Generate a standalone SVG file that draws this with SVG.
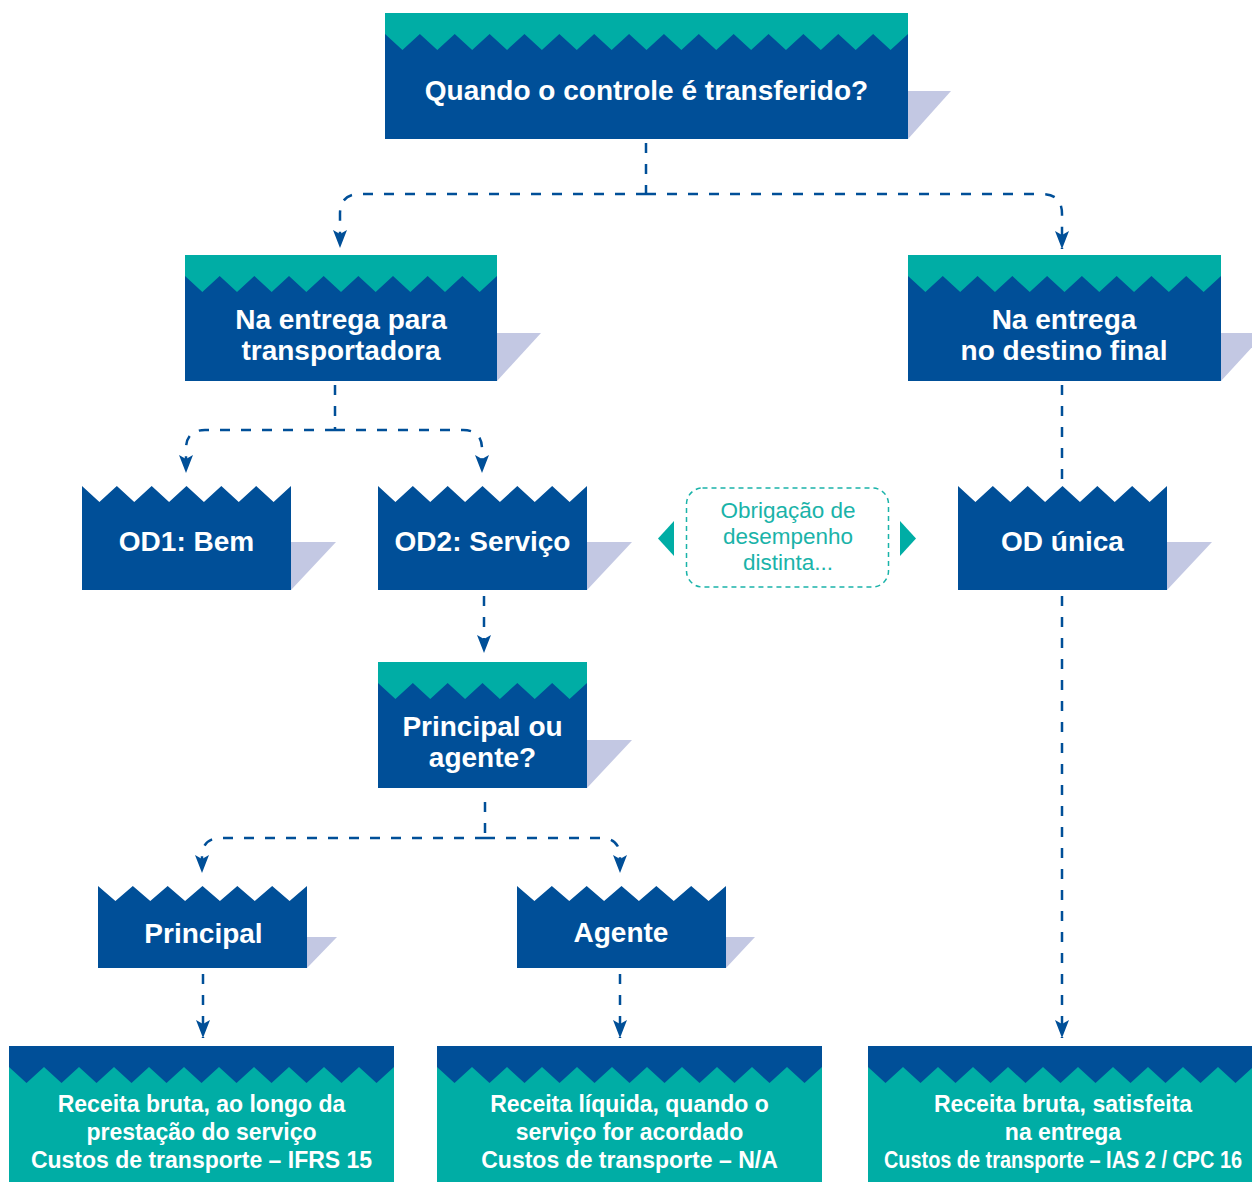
<svg xmlns="http://www.w3.org/2000/svg" width="1252" height="1182" viewBox="0 0 1252 1182">
<style>
.blue{fill:#004f98}
.teal{fill:#00ada5}
.shadow{fill:#c3c8e3}
.t{font-family:"Liberation Sans",Arial,sans-serif;font-weight:bold;font-size:28px;fill:#ffffff;text-anchor:middle}
.b{font-family:"Liberation Sans",Arial,sans-serif;font-weight:bold;font-size:23px;fill:#ffffff;text-anchor:middle}
.n{font-family:"Liberation Sans",Arial,sans-serif;font-size:22.5px;fill:#1ab3a9;text-anchor:middle}
.c{fill:none;stroke:#004f98;stroke-width:2.5;stroke-dasharray:10 11}
</style>
<defs>
<marker id="ah" markerUnits="userSpaceOnUse" markerWidth="20" markerHeight="16" refX="18" refY="8" orient="auto" viewBox="0 0 20 16">
<path d="M0,1 L18,8 L0,15 L4,8 Z" fill="#004f98"/>
</marker>
</defs>
<rect width="1252" height="1182" fill="#ffffff"/>

<g id="connectors">
<path class="c" d="M646,143V194"/>
<path class="c" d="M646,194H360Q340,194 340,214V248" marker-end="url(#ah)"/>
<path class="c" d="M646,194H1042Q1062,194 1062,214V249" marker-end="url(#ah)"/>
<path class="c" d="M335,385V430"/>
<path class="c" d="M335,430H205Q186,430 186,449V473" marker-end="url(#ah)"/>
<path class="c" d="M335,430H463Q482,430 482,449V473" marker-end="url(#ah)"/>
<path class="c" d="M1062,385V482"/>
<path class="c" d="M484,596V653" marker-end="url(#ah)"/>
<path class="c" d="M485,802V838"/>
<path class="c" d="M485,838H221Q202,838 202,857V873" marker-end="url(#ah)"/>
<path class="c" d="M485,838H601Q620,838 620,857V873" marker-end="url(#ah)"/>
<path class="c" d="M203,974V1038" marker-end="url(#ah)"/>
<path class="c" d="M620,974V1038" marker-end="url(#ah)"/>
<path class="c" d="M1062,596V1038" marker-end="url(#ah)"/>
</g>

<g id="n-quando">
<polygon class="shadow" points="908,91 951,91 908,139"/>
<rect class="blue" x="385" y="13" width="523" height="126"/>
<path class="teal" d="M385,13H908V34l-17.433,16 -17.433,-16 -17.433,16 -17.433,-16 -17.433,16 -17.433,-16 -17.433,16 -17.433,-16 -17.433,16 -17.433,-16 -17.433,16 -17.433,-16 -17.433,16 -17.433,-16 -17.433,16 -17.433,-16 -17.433,16 -17.433,-16 -17.433,16 -17.433,-16 -17.433,16 -17.433,-16 -17.433,16 -17.433,-16 -17.433,16 -17.433,-16 -17.433,16 -17.433,-16 -17.433,16 -17.433,-16Z"/>
<text class="t" x="646.5" y="100">Quando o controle é transferido?</text>
</g>

<g id="n-transportadora">
<polygon class="shadow" points="497,333 541,333 497,381"/>
<rect class="blue" x="185" y="255" width="312" height="126"/>
<path class="teal" d="M185,255H497V276l-17.333,16 -17.333,-16 -17.333,16 -17.333,-16 -17.333,16 -17.333,-16 -17.333,16 -17.333,-16 -17.333,16 -17.333,-16 -17.333,16 -17.333,-16 -17.333,16 -17.333,-16 -17.333,16 -17.333,-16 -17.333,16 -17.333,-16Z"/>
<text class="t" x="341" y="329">Na entrega para</text>
<text class="t" x="341" y="360">transportadora</text>
</g>

<g id="n-destino">
<polygon class="shadow" points="1221,333 1265,333 1221,381"/>
<rect class="blue" x="908" y="255" width="313" height="126"/>
<path class="teal" d="M908,255H1221V276l-17.389,16 -17.389,-16 -17.389,16 -17.389,-16 -17.389,16 -17.389,-16 -17.389,16 -17.389,-16 -17.389,16 -17.389,-16 -17.389,16 -17.389,-16 -17.389,16 -17.389,-16 -17.389,16 -17.389,-16 -17.389,16 -17.389,-16Z"/>
<text class="t" x="1064" y="329">Na entrega</text>
<text class="t" x="1064" y="360">no destino final</text>
</g>

<g id="n-od1">
<polygon class="shadow" points="291,542 336,542 291,590"/>
<path class="blue" d="M82,486l17.417,16 17.417,-16 17.417,16 17.417,-16 17.417,16 17.417,-16 17.417,16 17.417,-16 17.417,16 17.417,-16 17.417,16 17.417,-16V590H82Z"/>
<text class="t" x="186.5" y="551">OD1: Bem</text>
</g>

<g id="n-od2">
<polygon class="shadow" points="587,542 632,542 587,590"/>
<path class="blue" d="M378,486l17.417,16 17.417,-16 17.417,16 17.417,-16 17.417,16 17.417,-16 17.417,16 17.417,-16 17.417,16 17.417,-16 17.417,16 17.417,-16V590H378Z"/>
<text class="t" x="482.5" y="551">OD2: Serviço</text>
</g>

<g id="n-odunica">
<polygon class="shadow" points="1167,542 1212,542 1167,590"/>
<path class="blue" d="M958,486l17.417,16 17.417,-16 17.417,16 17.417,-16 17.417,16 17.417,-16 17.417,16 17.417,-16 17.417,16 17.417,-16 17.417,16 17.417,-16V590H958Z"/>
<text class="t" x="1062.5" y="551">OD única</text>
</g>

<g id="n-obrigacao">
<polygon fill="#00ada5" points="674,521 674,556 658,538.5"/>
<polygon fill="#00ada5" points="900,521 900,556 916,538.5"/>
<rect x="686.5" y="488" width="202" height="99" rx="16" ry="16" fill="none" stroke="#1ab3a9" stroke-width="1.5" stroke-dasharray="5 4"/>
<text class="n" x="788" y="518">Obrigação de</text>
<text class="n" x="788" y="544">desempenho</text>
<text class="n" x="788" y="570">distinta...</text>
</g>

<g id="n-principal-agente">
<polygon class="shadow" points="587,740 632,740 587,788"/>
<rect class="blue" x="378" y="662" width="209" height="126"/>
<path class="teal" d="M378,662H587V683l-17.417,16 -17.417,-16 -17.417,16 -17.417,-16 -17.417,16 -17.417,-16 -17.417,16 -17.417,-16 -17.417,16 -17.417,-16 -17.417,16 -17.417,-16Z"/>
<text class="t" x="482.5" y="736">Principal ou</text>
<text class="t" x="482.5" y="767">agente?</text>
</g>

<g id="n-principal">
<polygon class="shadow" points="307,937 337,937 307,968"/>
<path class="blue" d="M98,886l17.417,15 17.417,-15 17.417,15 17.417,-15 17.417,15 17.417,-15 17.417,15 17.417,-15 17.417,15 17.417,-15 17.417,15 17.417,-15V968H98Z"/>
<text class="t" x="203.5" y="943">Principal</text>
</g>

<g id="n-agente">
<polygon class="shadow" points="726,937 755,937 726,968"/>
<path class="blue" d="M517,886l17.417,15 17.417,-15 17.417,15 17.417,-15 17.417,15 17.417,-15 17.417,15 17.417,-15 17.417,15 17.417,-15 17.417,15 17.417,-15V968H517Z"/>
<text class="t" x="621" y="942">Agente</text>
</g>

<g id="n-receita-bruta-servico">
<rect class="teal" x="9" y="1046" width="385" height="136"/>
<path class="blue" d="M9,1046H394V1067l-17.5,16 -17.5,-16 -17.5,16 -17.5,-16 -17.5,16 -17.5,-16 -17.5,16 -17.5,-16 -17.5,16 -17.5,-16 -17.5,16 -17.5,-16 -17.5,16 -17.5,-16 -17.5,16 -17.5,-16 -17.5,16 -17.5,-16 -17.5,16 -17.5,-16 -17.5,16 -17.5,-16Z"/>
<text class="b" x="201.5" y="1112">Receita bruta, ao longo da</text>
<text class="b" x="201.5" y="1140">prestação do serviço</text>
<text class="b" x="201.5" y="1168">Custos de transporte – IFRS 15</text>
</g>

<g id="n-receita-liquida">
<rect class="teal" x="437" y="1046" width="385" height="136"/>
<path class="blue" d="M437,1046H822V1067l-17.5,16 -17.5,-16 -17.5,16 -17.5,-16 -17.5,16 -17.5,-16 -17.5,16 -17.5,-16 -17.5,16 -17.5,-16 -17.5,16 -17.5,-16 -17.5,16 -17.5,-16 -17.5,16 -17.5,-16 -17.5,16 -17.5,-16 -17.5,16 -17.5,-16 -17.5,16 -17.5,-16Z"/>
<text class="b" x="629.5" y="1112">Receita líquida, quando o</text>
<text class="b" x="629.5" y="1140">serviço for acordado</text>
<text class="b" x="629.5" y="1168">Custos de transporte – N/A</text>
</g>

<g id="n-receita-bruta-entrega">
<rect class="teal" x="868" y="1046" width="385" height="136"/>
<path class="blue" d="M868,1046H1253V1067l-17.5,16 -17.5,-16 -17.5,16 -17.5,-16 -17.5,16 -17.5,-16 -17.5,16 -17.5,-16 -17.5,16 -17.5,-16 -17.5,16 -17.5,-16 -17.5,16 -17.5,-16 -17.5,16 -17.5,-16 -17.5,16 -17.5,-16 -17.5,16 -17.5,-16 -17.5,16 -17.5,-16Z"/>
<text class="b" x="1063" y="1112">Receita bruta, satisfeita</text>
<text class="b" x="1063" y="1140">na entrega</text>
<text class="b" transform="translate(1063,1168) scale(0.865,1)" x="0" y="0">Custos de transporte – IAS 2 / CPC 16</text>
</g>
</svg>
